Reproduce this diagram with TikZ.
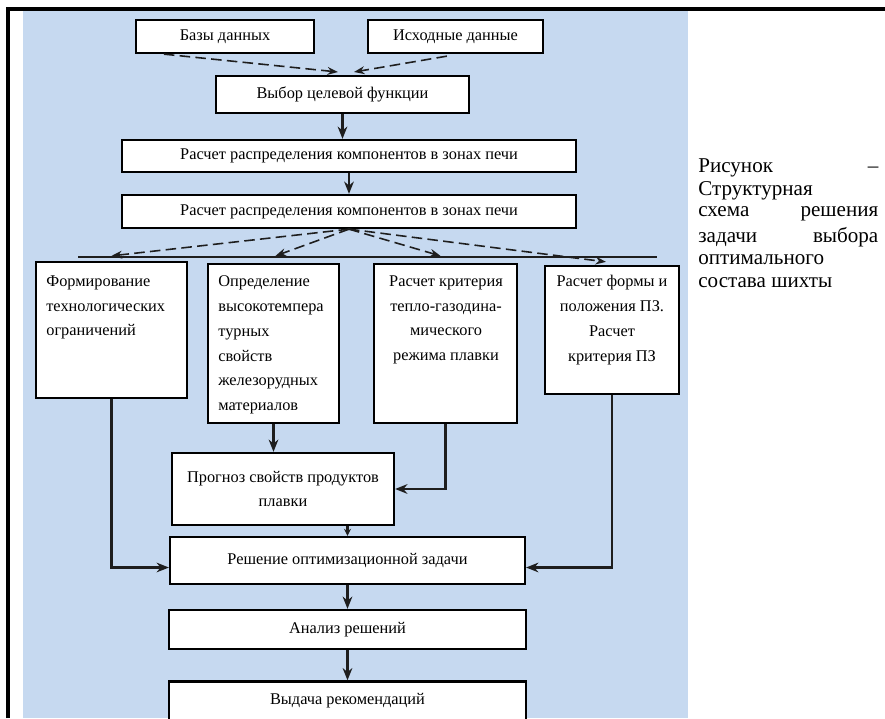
\documentclass[tikz,border=0pt]{standalone}
\usepackage{fontspec}
\setmainfont{Liberation Serif}
\usetikzlibrary{arrows.meta}
\definecolor{schemeblue}{RGB}{198,217,240}
\definecolor{linegray}{RGB}{30,30,30}
\begin{document}
\begin{tikzpicture}[x=0.02cm,y=-0.02cm,
 box/.style={draw=black,line width=1.3pt,fill=white,inner sep=0pt,align=center,font=\fontsize{9.3}{14}\selectfont},
 txt/.style={inner sep=0pt,font=\fontsize{9.3}{14.2}\selectfont},
 arr/.style={draw=linegray,line width=1.4pt,-{Stealth[length=7pt,width=5.5pt]}},
 dline/.style={draw=linegray,line width=0.9pt,dash pattern=on 6pt off 3pt,-{Stealth[length=6pt,width=4.5pt]}},
 capline/.style={anchor=west,inner sep=0pt,font=\fontsize{12}{13.2}\selectfont}]
 \useasboundingbox (0,0) rectangle (885,718);
 \clip (0,0) rectangle (885,718);
 \fill[schemeblue] (23,11) rectangle (688,718);
 \draw[line width=2.5pt] (8,718) -- (8,9) -- (885,9);
 \node[box,minimum width=3.56cm,minimum height=0.66cm] (baz) at (225,36.5) {Базы данных};
 \node[box,minimum width=3.5cm,minimum height=0.66cm] (ish) at (455.5,36.5) {Исходные данные};
 \node[box,minimum width=5.06cm,minimum height=0.74cm] (vyb) at (342.5,94.5) {Выбор целевой функции};
 \node[box,minimum width=9.08cm,minimum height=0.64cm] (r1) at (349,156) {Расчет распределения компонентов в зонах печи};
 \node[box,minimum width=9.08cm,minimum height=0.66cm] (r2) at (349,211.5) {Расчет распределения компонентов в зонах печи};
 \node[box,minimum width=3.02cm,minimum height=2.72cm] (fa) at (111.5,330) {};
 \node[box,minimum width=2.62cm,minimum height=3.18cm] (fb) at (273.5,343.5) {};
 \node[box,minimum width=2.86cm,minimum height=3.18cm] (fc) at (445.5,343.5) {};
 \node[box,minimum width=2.68cm,minimum height=2.56cm] (fd) at (612,330) {};
 \node[txt,anchor=north west,align=left] (fatxt) at (46,275) {Формирование\\технологических\\ограничений};
 \node[txt,anchor=north west,align=left] (fbtxt) at (218,275) {Определение\\высокотемпера\\турных\\свойств\\железорудных\\материалов};
 \node[txt,anchor=north,align=center] (fctxt) at (446,275) {Расчет критерия\\тепло-газодина-\\мического\\режима плавки};
 \node[txt,anchor=north,align=center] (fdtxt) at (612,275) {Расчет формы и\\положения ПЗ.\\Расчет\\критерия ПЗ};
 \node[box,minimum width=4.44cm,minimum height=1.44cm] (prog) at (283,489) {Прогноз свойств продуктов\\плавки};
 \node[box,minimum width=7.1cm,minimum height=0.94cm] (resh) at (347.5,560.5) {Решение оптимизационной задачи};
 \node[box,minimum width=7.14cm,minimum height=0.78cm] (anal) at (347.5,629.5) {Анализ решений};
 \node[box,minimum width=7.14cm,minimum height=0.78cm] (vyd) at (347.5,701) {Выдача рекомендаций};
 \coordinate (jb) at (338,72);
 \coordinate (ji) at (354,72);
 \coordinate (hl) at (78,257);
 \coordinate (hr) at (657,257);
 \draw[dline] ([shift={(29,0)}]baz.south west) -- (jb);
 \draw[dline] ([shift={(80,2)}]ish.south west) -- (ji);
 \draw[linegray,line width=0.7pt] (hl) -- (hr);
 \draw[dline] (r2.south) -- ([shift={(0,-5)}]fa.north);
 \draw[dline] (r2.south) -- ([shift={(2,-7)}]fb.north);
 \draw[dline] (r2.south) -- ([shift={(-5,-7)}]fc.north);
 \draw[dline] (r2.south) -- ([shift={(-6,-3)}]fd.north);
 \draw[arr] (vyb.south) -- (vyb.south |- r1.north);
 \draw[arr] (r1.south) -- (r2.north);
 \draw[arr] (fa.south) |- ([shift={(0,7)}]resh.west);
 \draw[arr] (fb.south) -- (fb.south |- prog.north);
 \draw[arr] (fc.south) |- (prog.east);
 \draw[arr] (fd.south) |- ([shift={(0,7)}]resh.east);
 \draw[arr,-{Stealth[length=4pt,width=4pt]}] (prog.south -| resh.north) -- (resh.north);
 \draw[arr] (resh.south) -- (anal.north);
 \draw[arr] (anal.south) -- (vyd.north);
 \node[capline] (cap1) at (698,168) {\makebox[3.6cm][l]{Рисунок\hfill –}};
 \node[capline] (cap2) at (698,191) {Структурная};
 \node[capline] (cap3) at (698,214) {\makebox[3.6cm][l]{схема\hfill решения}};
 \node[capline] (cap4) at (698,237) {\makebox[3.6cm][l]{задачи\hfill выбора}};
 \node[capline] (cap5) at (698,260) {оптимального};
 \node[capline] (cap6) at (698,283) {состава шихты};
\end{tikzpicture}
\end{document}
